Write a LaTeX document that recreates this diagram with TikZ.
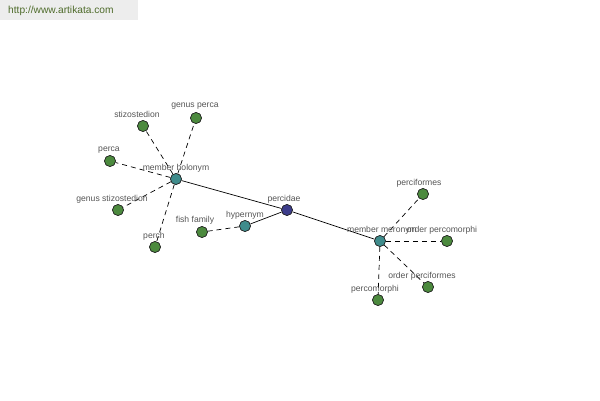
\documentclass[tikz,border=0pt]{standalone}
\usepackage{fontspec}
\setmainfont{Liberation Sans}
\definecolor{leafc}{HTML}{4C8A3E}
\definecolor{relc}{HTML}{3F8C8C}
\definecolor{hubc}{HTML}{3C3C8A}
\definecolor{labc}{HTML}{555555}
\definecolor{urlc}{HTML}{4E6B2A}
\begin{document}
\begin{tikzpicture}[x=1pt,y=-1pt,
  vtx/.style={circle,draw=black!85,line width=0.6pt,minimum size=11pt,inner sep=0pt},
  leaf/.style={vtx,fill=leafc},
  rel/.style={vtx,fill=relc},
  hub/.style={vtx,fill=hubc},
  lab/.style={font=\fontsize{8.6}{9}\selectfont,text=labc,inner sep=0pt},
  dedge/.style={dashed,dash pattern=on 5pt off 4pt,line width=0.7pt},
  sedge/.style={line width=0.7pt}]
\useasboundingbox (0,0) rectangle (600,400);
\fill[black!7] (0,0) rectangle (138,20);
\node[font=\fontsize{10.2}{11}\selectfont,text=urlc,anchor=west,inner sep=0pt] (url) at (8,11) {http://www.artikata.com};
% nodes
\node[rel] (mh) at (176,179) {};
\node[hub] (pc) at (287,210) {};
\node[rel] (hy) at (245,226) {};
\node[leaf] (ff) at (202,232) {};
\node[leaf] (st) at (143,126) {};
\node[leaf] (gp) at (196,118) {};
\node[leaf] (pa) at (110,161) {};
\node[leaf] (gs) at (118,210) {};
\node[leaf] (ph) at (155,247) {};
\node[rel] (mm) at (380,241) {};
\node[leaf] (pf) at (423,194) {};
\node[leaf] (op) at (447,241) {};
\node[leaf] (of) at (428,287) {};
\node[leaf] (pm) at (378,300) {};
% edges
\draw[sedge] (mh) -- (pc);
\draw[sedge] (pc) -- (hy);
\draw[sedge] (pc) -- (mm);
\draw[dedge] (hy) -- (ff);
\draw[dedge] (mh) -- (st);
\draw[dedge] (mh) -- (gp);
\draw[dedge] (mh) -- (pa);
\draw[dedge] (mh) -- (gs);
\draw[dedge] (mh) -- (ph);
\draw[dedge] (mm) -- (pf);
\draw[dedge] (mm) -- (op);
\draw[dedge] (mm) -- (of);
\draw[dedge] (mm) -- (pm);
% labels
\node[lab] (lmh) at (176,168) {member holonym};
\node[lab] (lpc) at (284,199) {percidae};
\node[lab] (lhy) at (245,215) {hypernym};
\node[lab] (lff) at (195,220) {fish family};
\node[lab] (lst) at (137,114) {stizostedion};
\node[lab] (lgp) at (195,106) {genus perca};
\node[lab] (lpa) at (109,150) {perca};
\node[lab] (lgs) at (112,199) {genus stizostedion};
\node[lab] (lph) at (154,236) {perch};
\node[lab] (lmm) at (382,230) {member meronym};
\node[lab] (lpf) at (419,183) {perciformes};
\node[lab] (lop) at (442,230) {order percomorphi};
\node[lab] (lof) at (422,276) {order perciformes};
\node[lab] (lpm) at (375,289) {percomorphi};
% redraw vertices on top
\foreach \n/\s in {mh/rel,pc/hub,hy/rel,ff/leaf,st/leaf,gp/leaf,pa/leaf,gs/leaf,ph/leaf,mm/rel,pf/leaf,op/leaf,of/leaf,pm/leaf}
  \node[\s] at (\n) {};
\end{tikzpicture}
\end{document}
